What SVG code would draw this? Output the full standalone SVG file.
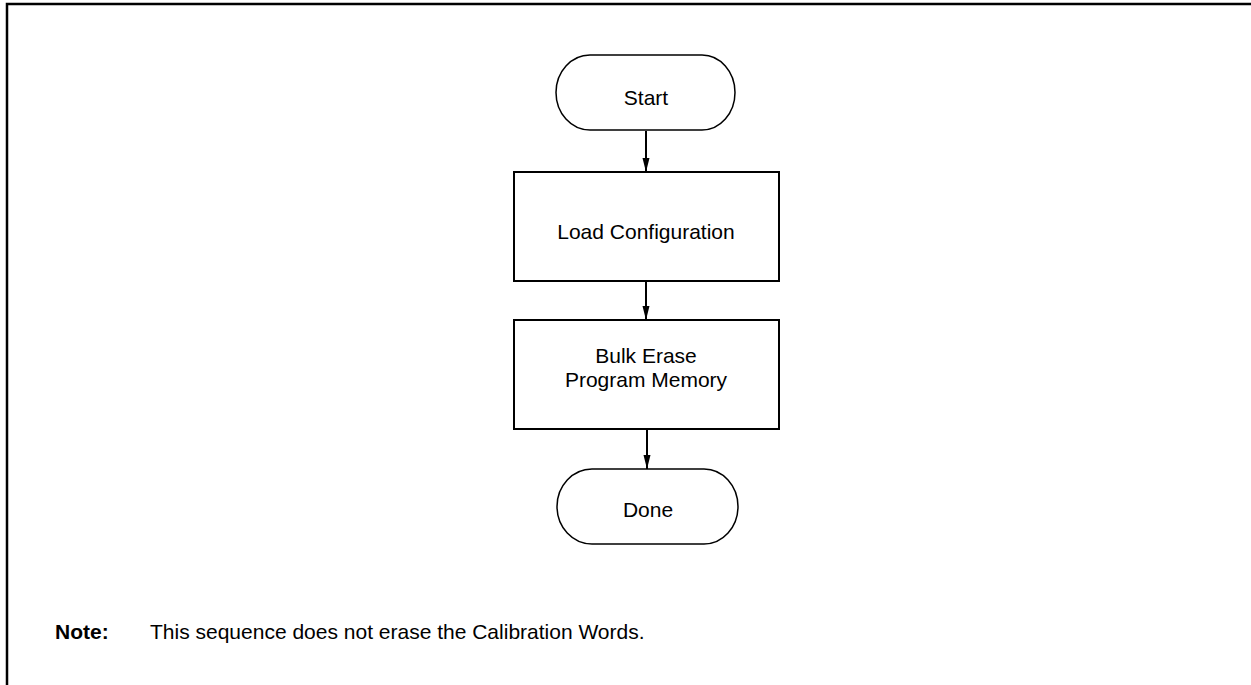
<svg xmlns="http://www.w3.org/2000/svg" width="1251" height="685" viewBox="0 0 1251 685">
  <style>
    .shape { fill: #ffffff; stroke: #000000; stroke-width: 2; }
    .term { fill: #ffffff; stroke: #000000; stroke-width: 1.5; }
    .lbl { font-family: "Liberation Sans", Arial, sans-serif; font-size: 21px; fill: #000000; text-anchor: middle; }
    .note { font-family: "Liberation Sans", Arial, sans-serif; font-size: 21px; fill: #000000; }
    .edge { stroke: #000000; stroke-width: 2; fill: none; marker-end: url(#arrow); }
  </style>
  <defs>
    <marker id="arrow" viewBox="0 0 14 8" refX="14" refY="4" markerWidth="14" markerHeight="8" markerUnits="userSpaceOnUse" orient="auto">
      <path d="M0,0.5 L14,4 L0,7.5 Z" fill="#000000"/>
    </marker>
  </defs>
  <rect width="1251" height="685" fill="#ffffff"/>
  <g id="frame">
    <path d="M7,685 V4 H1251" fill="none" stroke="#000000" stroke-width="2.5"/>
  </g>
  <g id="connectors">
    <line class="edge" x1="646" y1="131" x2="646" y2="172"/>
    <line class="edge" x1="646" y1="281" x2="646" y2="320"/>
    <line class="edge" x1="647" y1="429" x2="647" y2="469"/>
  </g>
  <g id="start">
    <path class="term" d="M590,55 H702 A33,37.5 0 0 1 702,130 H590 A34,37.5 0 0 1 590,55 Z"/>
    <text class="lbl" x="646" y="105">Start</text>
  </g>
  <g id="load-config">
    <rect class="shape" x="514" y="172" width="265" height="109"/>
    <text class="lbl" x="646" y="239">Load Configuration</text>
  </g>
  <g id="bulk-erase">
    <rect class="shape" x="514" y="320" width="265" height="109"/>
    <text class="lbl" x="646" y="363">Bulk Erase</text>
    <text class="lbl" x="646" y="387">Program Memory</text>
  </g>
  <g id="done">
    <path class="term" d="M592,469 H704 A34,37.5 0 0 1 704,544 H592 A35,37.5 0 0 1 592,469 Z"/>
    <text class="lbl" x="648" y="517">Done</text>
  </g>
  <g id="note">
    <text class="note" x="55" y="639" font-weight="bold">Note:</text>
    <text class="note" x="150" y="639">This sequence does not erase the Calibration Words.</text>
  </g>
</svg>
